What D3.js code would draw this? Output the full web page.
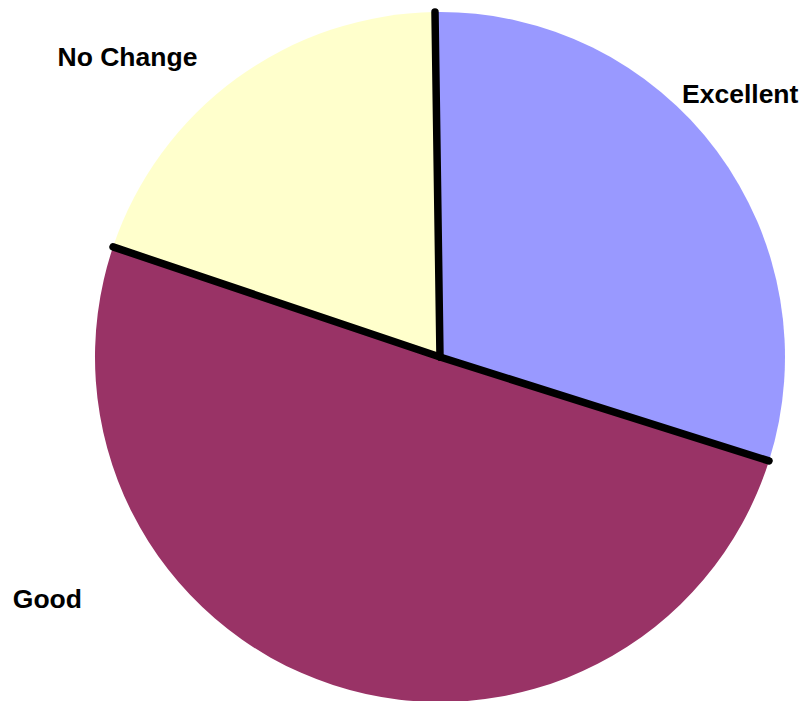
<!DOCTYPE html>
<html>
<head>
<meta charset="utf-8">
<script src="https://cdn.jsdelivr.net/npm/d3@7"></script>
<style>
  html, body { margin: 0; padding: 0; background: #fff; }
  svg text { font-family: "Liberation Sans", Arial, Helvetica, sans-serif; font-weight: bold; }
</style>
</head>
<body>
<div id="chart"></div>
<script>
(function(){
    // data
    var categories = ['Excellent', 'Good', 'No Change'];
    var values     = [30.1, 50.3, 19.6];
    var colors     = ['#9999FF', '#993366', '#FFFFCC'];

    // layout
    var WIDTH       = 801,
        HEIGHT      = 701,
        CX          = 440,   // pie centre
        CY          = 357,
        RADIUS      = 345,
        START       = -0.0145, // radians, slight tilt of the first slice
        LINE_WIDTH  = 7.5,
        FONT_SIZE   = 26.5;

    // label placement: polar angle (deg, clockwise from top) and distance from centre
    var LABEL_POS = {
        'Excellent': { angle: 48.8,  dist: 399 },
        'Good':      { angle: 238.4, dist: 461 },
        'No Change': { angle: 313.8, dist: 433 }
    };

    var rows = categories.map(function(c, i){
        return { name: c, value: values[i], color: colors[i] };
    });

    var svg = d3.select('#chart')
        .append('svg')
        .attr('width', WIDTH)
        .attr('height', HEIGHT);

    var g = svg.append('g')
        .attr('transform', 'translate(' + CX + ',' + CY + ')');

    var pie = d3.pie()
        .sort(null)
        .value(function(d){ return d.value; })
        .startAngle(START)
        .endAngle(START + 2 * Math.PI);

    var arc = d3.arc()
        .innerRadius(0)
        .outerRadius(RADIUS);

    var arcs = pie(rows);

    // slices
    g.selectAll('path.slice')
        .data(arcs)
        .enter().append('path')
        .attr('class', 'slice')
        .attr('d', arc)
        .attr('fill', function(d){ return d.data.color; });

    // black separators between slices
    g.selectAll('line.sep')
        .data(arcs)
        .enter().append('line')
        .attr('class', 'sep')
        .attr('x1', 0)
        .attr('y1', 0)
        .attr('x2', function(d){ return RADIUS * Math.sin(d.startAngle); })
        .attr('y2', function(d){ return -RADIUS * Math.cos(d.startAngle); })
        .attr('stroke', '#000')
        .attr('stroke-width', LINE_WIDTH)
        .attr('stroke-linecap', 'round');

    // labels
    g.selectAll('text.label')
        .data(arcs)
        .enter().append('text')
        .attr('class', 'label')
        .attr('x', function(d){
            var p = LABEL_POS[d.data.name];
            return p.dist * Math.sin(p.angle * Math.PI / 180);
        })
        .attr('y', function(d){
            var p = LABEL_POS[d.data.name];
            return -p.dist * Math.cos(p.angle * Math.PI / 180);
        })
        .attr('text-anchor', 'middle')
        .attr('dominant-baseline', 'central')
        .attr('font-size', FONT_SIZE)
        .attr('fill', '#000')
        .text(function(d){ return d.data.name; });
})();
</script>
</body>
</html>
